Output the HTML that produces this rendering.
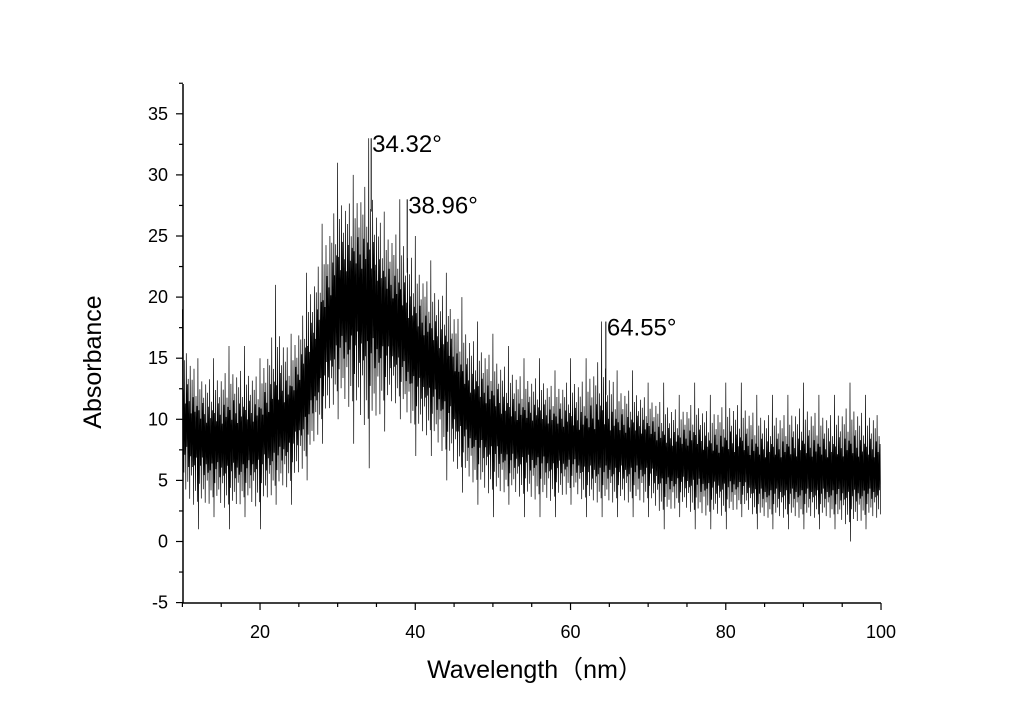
<!DOCTYPE html>
<html><head><meta charset="utf-8"><style>
body{margin:0;background:#fff;}
svg{display:block;font-family:"Liberation Sans","Noto Sans CJK SC",sans-serif;}
</style></head><body>
<svg id="chart" width="1024" height="723" viewBox="0 0 1024 723" xmlns="http://www.w3.org/2000/svg">
<rect width="1024" height="723" fill="#fff"/>
<g id="plot"></g>
<g id="axes"></g>
<text transform="translate(101,362) rotate(-90)" text-anchor="middle" font-size="25">Absorbance</text>
<text x="535" y="678" text-anchor="middle" font-size="25">Wavelength（nm）</text>
</svg>
<script>
const xs   = [10,12,14,16,18,20,22,24,26,28,30,32,34,36,38,40,42,44,46,48,50,52,54,56,58,60,62,64,66,68,70,72,74,76,78,80,82,84,86,88,90,92,94,96,98,100];
const hiVals = [19,15,15,16,16,15,21,17,22,26,31,30,33,27,28,25,23,22,20,18,17,16,15,15,14,15,15,18,14,14,13,13,12,13,12,13,13,12,12,12,13,12,12,13,12,12];
const loVals = [2,1,2,1,2,1,3,3,5,8,10,8,6,9,10,7,7,5,4,3,2,3,2,2,2,3,2,2,2,2,2,1,2,1,1,1,2,1,1,1,1,1,1,0,1,1];
const coreHi = [12,11,11,11,11,11,12,13,16,20,24,25,24,23,21,19,18,17,14,13,12,11,11,11,11,10,10,10,10,10,10,9,9,9,8,8,8,8,8,8,8,8,8,8,8,8];
const coreLo = [7,6,5,5,5,6,6,7,9,12,14,15,15,14,13,12,11,10,8,7,7,6,6,6,5,6,5,5,5,5,5,4,4,4,4,4,4,3,3,3,3,3,3,3,3,3];
const peakX = [34.32,38.96,64.55];
const peakY = [33,28,18];
const peakLabels = ["34.32°","38.96°","64.55°"];
const xTicks = [20,40,60,80,100];
const yTicks = [-5,0,5,10,15,20,25,30,35];

const NS="http://www.w3.org/2000/svg";
const X = v => 182.4 + (v-10)*7.7625;
const Y = v => 541.5 - v*12.22;
function mk(tag, attrs, parent){const e=document.createElementNS(NS,tag);for(const k in attrs)e.setAttribute(k,attrs[k]);parent.appendChild(e);return e;}
const plot=document.getElementById('plot'), axes=document.getElementById('axes');

// spikes zigzag
let d='';
const pat=[1,0.35,0.75,0.2,0.9,0.5,0.6,0.3,0.85,0.15,0.7,0.45,0.95,0.25,0.55,0.4];
const sub=16;
for(let i=0;i<xs.length-1;i++){
  for(let k=0;k<sub;k++){
    const t=k/sub;
    const x=X(xs[i]+(xs[i+1]-xs[i])*t);
    const hi=hiVals[i]*(1-t)+hiVals[i+1]*t, ch=coreHi[i]*(1-t)+coreHi[i+1]*t;
    const lo=loVals[i]*(1-t)+loVals[i+1]*t, cl=coreLo[i]*(1-t)+coreLo[i+1]*t;
    const a=pat[k], b=pat[(k+5)%sub];
    const mid=(ch+cl)/2;
    const top=k===0?hi:(mid+(ch-mid)*0.3+(hi-(mid+(ch-mid)*0.3))*a*0.75);
    const bot=k===0?lo:(mid-(mid-cl)*0.3-((mid-(mid-cl)*0.3)-lo)*b*0.75);
    d+=(d?'L':'M')+x.toFixed(1)+','+Y(top).toFixed(1)+'L'+(x+0.5).toFixed(1)+','+Y(bot).toFixed(1);
  }
}
const sp=mk('path',{d:d,stroke:'#000','stroke-width':0.7,fill:'none'},plot);



peakX.forEach((p,i)=>{
  const l=mk('line',{x1:X(p),x2:X(p),y1:Y(peakY[i]-6),y2:Y(peakY[i]),stroke:'#000','stroke-width':1},plot);
  
  
  const t=mk('text',{x:X(p)+1,y:Y(peakY[i])+14,'font-size':24},plot);
  t.textContent=peakLabels[i];
  
  
});

// axes
const ya=mk('line',{x1:183,x2:183,y1:84,y2:603,stroke:'#000','stroke-width':1.5},axes);


const xa=mk('line',{x1:182,x2:881,y1:603,y2:603,stroke:'#000','stroke-width':1.5},axes);


for(let v=10;v<=100;v+=5){const maj=v%20===0;mk('line',{x1:X(v),x2:X(v),y1:603,y2:603+(maj?7:4),stroke:'#000','stroke-width':1.2},axes);}
xTicks.forEach(v=>{const t=mk('text',{x:X(v),y:638,'text-anchor':'middle','font-size':18},axes);t.textContent=v;

});
for(let v=-5;v<=37.5;v+=2.5){const maj=v%5===0;mk('line',{x1:183,x2:183-(maj?7:4),y1:Y(v),y2:Y(v),stroke:'#000','stroke-width':1.2},axes);}
yTicks.forEach(v=>{const t=mk('text',{x:168,y:Y(v)+6,'text-anchor':'end','font-size':18},axes);t.textContent=v;

});
</script>
</body></html>
